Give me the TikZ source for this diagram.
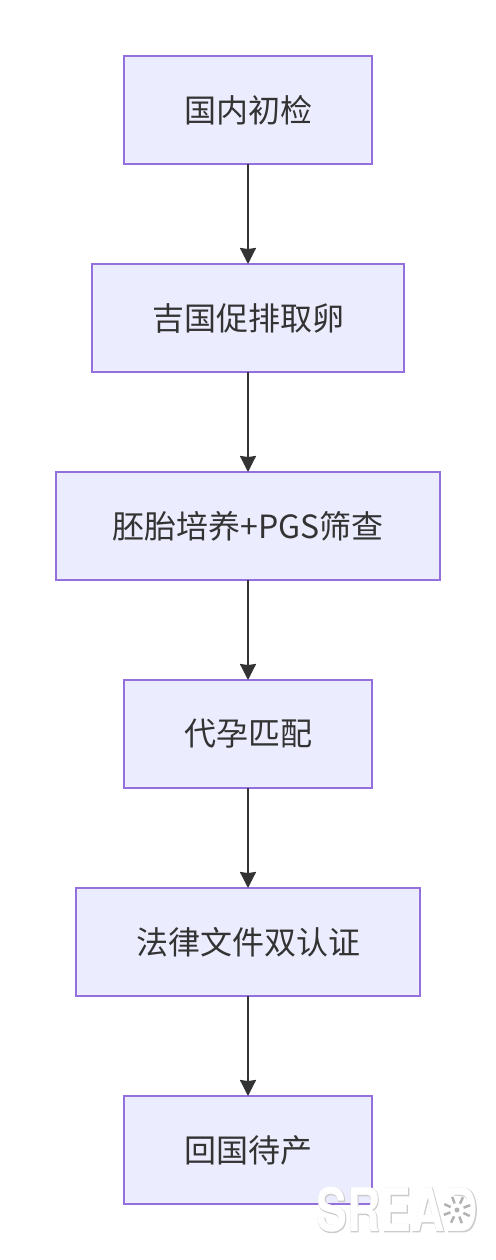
\documentclass[tikz,border=0pt]{standalone}
\usepackage{fontspec}
\setmainfont{Noto Sans CJK SC}
\newfontfamily\markfont[BoldFeatures={FakeBold=2}]{TeX Gyre Heros}
\newfontfamily\markinner{TeX Gyre Heros}
\usetikzlibrary{positioning,arrows.meta,calc}
\definecolor{boxfill}{HTML}{ECECFF}
\definecolor{boxline}{HTML}{9370DB}
\definecolor{inkdark}{HTML}{333333}
\tikzset{
    stepbox/.style={draw=boxline, fill=boxfill, line width=2pt, text=inkdark, outer sep=0pt,
        minimum height=108pt, inner sep=0pt, font=\fontsize{32}{38}\selectfont},
    flow/.style={draw=inkdark, line width=2pt, -{Stealth[length=16pt,width=16pt,inset=1pt]}},
    markrim/.style={inner sep=0pt, text=black!20, font=\markfont\bfseries\fontsize{60}{62}\selectfont},
    marktop/.style={inner sep=0pt, text=white, font=\markinner\bfseries\fontsize{60}{62}\selectfont},
    markray/.style={draw=black!30, line width=2.5pt}
}

\begin{document}
\begin{tikzpicture}[x=1pt, y=1pt, node distance=100pt]
    \useasboundingbox (0,0) rectangle (495,-1260);
    % Steps
    \node[stepbox, minimum width=248pt] (check) at (248,-110) {国内初检};
    \node[stepbox, minimum width=312pt, below=of check] (retrieve) {吉国促排取卵};
    \node[stepbox, minimum width=384pt, below=of retrieve] (culture) {胚胎培养+PGS筛查};
    \node[stepbox, minimum width=248pt, below=of culture] (match) {代孕匹配};
    \node[stepbox, minimum width=344pt, below=of match] (legal) {法律文件双认证};
    \node[stepbox, minimum width=248pt, below=of legal] (home) {回国待产};
    % Connectors
    \draw[flow] (check) -- (retrieve);
    \draw[flow] (retrieve) -- (culture);
    \draw[flow] (culture) -- (match);
    \draw[flow] (match) -- (legal);
    \draw[flow] (legal) -- (home);
    % Watermark
    \node[markrim, xscale=0.77] (wmrim) at (397.5,-1210) {SREAD};
    \node[marktop, xscale=0.77] (wmtop) at (397.5,-1210) {SREAD};
    \coordinate (sun) at (457,-1210);
    \fill[white] (sun) circle (14pt);
    \foreach \a in {20,65,...,340}
        \draw[markray] ($(sun)+(\a:7)$) -- ($(sun)+(\a:14)$);
    \fill[black!30] (sun) circle (2.5pt);
\end{tikzpicture}
\end{document}
